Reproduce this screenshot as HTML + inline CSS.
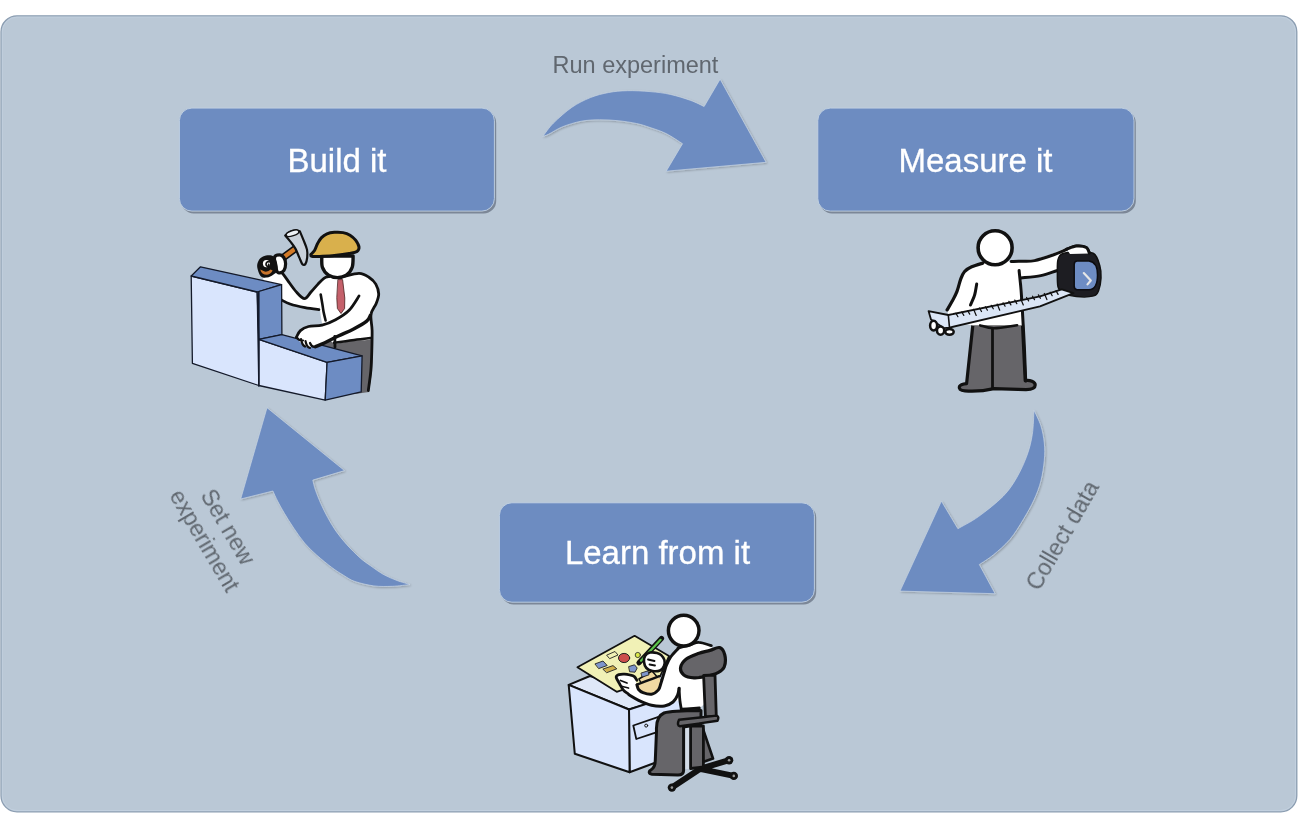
<!DOCTYPE html>
<html><head><meta charset="utf-8">
<style>
html,body{margin:0;padding:0;background:#fff;width:1300px;height:813px;overflow:hidden}
svg{display:block}
text{font-family:"Liberation Sans",sans-serif}
</style></head>
<body>
<svg width="1300" height="813" viewBox="0 0 1300 813">
<defs>
<filter id="sh" x="-5%" y="-5%" width="115%" height="120%">
<feGaussianBlur in="SourceAlpha" stdDeviation="1.2"/>
<feOffset dx="1" dy="1.5" result="b"/>
<feComponentTransfer><feFuncA type="linear" slope="0.4"/></feComponentTransfer>
<feMerge><feMergeNode/><feMergeNode in="SourceGraphic"/></feMerge>
</filter>
<filter id="nf" x="-3%" y="-10%" width="106%" height="120%"><feOffset dx="0" dy="0"/></filter>
<filter id="bl" x="-5%" y="-5%" width="110%" height="110%"><feGaussianBlur stdDeviation="0.7"/></filter>
<filter id="sh2" x="-5%" y="-5%" width="115%" height="120%">
<feGaussianBlur in="SourceAlpha" stdDeviation="1"/>
<feOffset dx="0.5" dy="1.2" result="b"/>
<feComponentTransfer><feFuncA type="linear" slope="0.25"/></feComponentTransfer>
<feMerge><feMergeNode/><feMergeNode in="SourceGraphic"/></feMerge>
</filter>
</defs>
<rect x="1" y="15.8" width="1295.8" height="796" rx="16" fill="#bac8d6" stroke="#8b9db1" stroke-width="1.3"/>
<rect x="2.3" y="17.1" width="1293.2" height="793.4" rx="14.7" fill="none" stroke="#c4d3e2" stroke-width="0.9" opacity="0.8"/>
<g fill="#7b8797" filter="url(#bl)">
<rect x="181.2" y="110.4" width="315" height="103" rx="12.5"/>
<rect x="819.6" y="110.4" width="316.2" height="103" rx="12.5"/>
<rect x="501.2" y="505.1" width="315" height="99.4" rx="12.5"/>
</g>
<g fill="#6d8cc1" stroke="#c3d2e3" stroke-width="0.9">
<rect x="179.4" y="108.1" width="315" height="103" rx="12.5"/>
<rect x="817.8" y="108.1" width="316.2" height="103" rx="12.5"/>
<rect x="499.4" y="502.8" width="315" height="99.4" rx="12.5"/>
</g>
<g fill="#fff" font-size="33" text-anchor="middle" stroke="#fff" stroke-width="0.3" filter="url(#nf)">
<text x="337" y="171.6">Build it</text>
<text x="975.5" y="171.6">Measure it</text>
<text x="657.5" y="563.6">Learn from it</text>
</g>
<g fill="#6d8cc1" stroke="#c9d6e4" stroke-width="0.7" filter="url(#sh2)">
<path d="M542.8,136.4C544.6,134.2 548.6,127.8 553.5,123C558.4,118.2 565.8,111.5 571.9,107.3C578,103.1 584.2,100.1 590.4,97.6C596.5,95.1 602.6,93.7 608.8,92.5C614.9,91.3 620.4,90.9 627.3,90.7C634.2,90.5 642.8,91 650,91.6C657.2,92.2 663.5,92.9 670.3,94.4C677.1,95.9 685,98.4 690.6,100.4C696.2,102.4 701.9,105.5 704.1,106.5L720.1,79.2L766.1,162.3L666.2,171.2L682.5,143.7C679.8,142 671.6,136.3 666.2,133.6C660.8,130.9 655,129.2 650,127.5C645,125.8 641.8,124.6 636.5,123.5C631.2,122.4 624.2,121.3 618.1,120.7C612,120.1 605.8,119.7 599.6,119.8C593.5,119.9 587.4,120 581.2,121.2C575.1,122.4 568.1,124.6 562.7,126.7C557.3,128.8 552.1,132.5 548.8,134.1C545.5,135.7 543.8,136 542.8,136.4Z"/>
<path d="M1034,410.3C1035.2,412.9 1039.2,420.4 1040.9,425.8C1042.6,431.2 1043.7,437.3 1044.3,443C1044.9,448.7 1044.9,453.9 1044.3,460.2C1043.7,466.5 1042.6,474.3 1040.9,480.9C1039.2,487.5 1036.9,493.5 1034,499.8C1031.1,506.1 1027.7,512.2 1023.7,518.8C1019.7,525.4 1015,533.4 1009.9,539.4C1004.8,545.4 998.4,550.7 993.3,554.9C988.2,559.1 981.6,562.9 979.3,564.5L995.1,593.7L900,591.1L941.4,501.1L957.9,528.7C961.3,526.7 971,522 978.5,516.6C986,511.2 996.6,502.9 1003,496.4C1009.4,489.9 1012.8,484.4 1016.8,477.5C1020.8,470.6 1024.5,462.3 1027.1,455.1C1029.7,447.9 1031.1,441.9 1032.3,434.4C1033.5,426.9 1033.7,414.3 1034,410.3Z"/>
<path d="M267,407.7L344.5,470.6L312.8,480.1C313.2,481.8 314.1,486.4 315.5,490.3C316.9,494.2 318.9,499.3 320.9,503.8C322.9,508.3 325.1,512.8 327.6,517.3C330.1,521.8 332.6,526.4 335.8,530.9C339,535.4 342.6,539.9 346.6,544.4C350.7,548.9 356.1,554.3 360.1,557.9C364.2,561.5 367.1,563.3 370.9,566C374.7,568.7 378.8,571.9 383.1,574.3C387.5,576.7 392.5,578.8 397,580.5C401.5,582.2 407.8,583.8 410,584.5C407.1,584.8 398.3,586.1 392.3,586.3C386.3,586.5 380.1,586.7 373.9,585.9C367.7,585.1 360,583.2 355,581.5C350,579.8 347.8,577.9 343.9,575.5C340,573.1 336.2,570.8 331.7,567.4C327.2,564 321.3,559.2 316.8,555.2C312.3,551.2 308.4,547.6 304.6,543.1C300.8,538.6 297.2,533.2 293.8,528.2C290.4,523.2 287.1,517.8 284.4,513.3C281.7,508.8 279.5,504.8 277.6,501.1C275.7,497.4 273.7,492.7 272.9,491L240.7,499Z"/>
</g>
<g fill="#60676f" font-size="23.5" filter="url(#nf)">
<text x="552.5" y="73.4">Run experiment</text>
<g transform="translate(217.5,533) rotate(59.5)" font-size="23" text-anchor="middle"><text x="0" y="-4">Set new</text><text x="0" y="23">experiment</text></g>
<g transform="translate(1039,592) rotate(-60)" font-size="23"><text x="0" y="0">Collect data</text></g>
</g>
<g stroke-linejoin="round" stroke-linecap="round">
<path d="M322,343L333,339L371.5,336.5L373,352L372,372L369,392L355,394L322,360Z" fill="#666569"/>
<path d="M318,286C319.7,282.9 324.7,278.1 329,276.5C333.3,274.9 339,277 344,276.5C349,276 354.8,273.2 359,273.3C363.2,273.4 366.2,275.5 369,277.3C371.8,279.1 374.2,281.3 375.8,284.1C377.4,286.9 378.6,290.7 378.7,293.9C378.8,297.1 377.5,300.1 376.2,303.5C374.9,306.9 371.5,310.3 370.8,314.4C370.1,318.5 372,323.9 372,328C372,332.1 374.3,336.9 371,339C367.7,341.1 358.2,339.8 352,340.5C345.8,341.2 338.7,344.8 334,343C329.3,341.2 326.3,335.5 324,330C321.7,324.5 320.8,315.8 320,310C319.2,304.2 319.3,299 319,295C318.7,291 316.3,289.1 318,286Z" fill="#fff"/>
<path d="M262,276L281.6,272.2L287.5,280.1L296.3,291.9L304.2,298.8L311,292L318,284.1L324,278L322,300L318.9,309.8L300,306L281,300L268,290Z" fill="#fff"/>
<path d="M338.2,279.6L342.6,279.6L344.8,298L344.6,308.5L341,313.5L337.4,308.5L336.8,298Z" fill="#c4606a" stroke="#4a2020" stroke-width="0.8"/>
<path d="M344.3,276.4C346.8,275.9 355,273.3 359.1,273.4C363.2,273.5 366.1,275.4 368.9,277.2C371.7,279 374.2,281.3 375.8,284.1C377.4,286.9 378.6,290.7 378.7,293.9C378.8,297.1 377.5,300.1 376.2,303.5C374.9,306.9 371.7,309.9 371,314.4C370.3,318.9 372,324.5 372.1,330.6C372.2,336.7 372,344.1 371.8,350.9C371.6,357.7 371.4,364.6 370.8,371.2C370.2,377.8 368.7,387.3 368.3,390.5" fill="none" stroke="#111" stroke-width="2.8"/>
<path d="M334.2,342.8C337.2,342.4 345.9,341 352,340.2C358.1,339.4 367.4,338.4 370.5,338" fill="none" stroke="#111" stroke-width="2.6"/>
<path d="M329.5,276.5C328.6,276.8 325.8,277 323.9,278.3C322,279.6 320.1,281.8 318,284.1C315.9,286.4 313.2,289.6 311,292C308.8,294.4 306.9,298.6 304.5,298.6C302.1,298.6 299.1,295 296.3,291.9C293.5,288.8 289.9,283.4 287.5,280.1C285.1,276.8 282.6,273.5 281.6,272.2" fill="none" stroke="#111" stroke-width="2.8"/>
<path d="M281.5,300C282.9,300.7 286.1,302.7 290,304C293.9,305.3 300.2,306.7 305,307.6C309.8,308.5 316.6,309.3 318.9,309.6" fill="none" stroke="#111" stroke-width="2.8"/>
<path d="M320.7,294.5C321,296.2 322,302.1 322.5,305C323,307.9 323.1,309.4 323.6,312C324.1,314.6 325.3,319.1 325.6,320.5" fill="none" stroke="#111" stroke-width="2.6"/>
<path d="M321.8,256C321.9,257.9 321.3,264.1 322.4,267.3C323.5,270.5 326,273.5 328.5,275.2C331,276.9 334.4,277.6 337.4,277.6C340.4,277.6 343.8,276.9 346.3,275.2C348.8,273.5 351.1,270.5 352.2,267.3C353.3,264.1 353,257.9 353.1,256Z" fill="#fff" stroke="#111" stroke-width="3.4"/>
<path d="M310.8,254.6C311.4,253.9 313.4,252.3 314.5,250.5C315.6,248.7 316.4,245.7 317.6,243.5C318.8,241.3 319.9,239.2 321.5,237.6C323.1,236 324.9,234.7 327,233.8C329.1,232.9 331.7,232.5 334.4,232.3C337.1,232.1 340.4,232.1 343,232.6C345.6,233.1 347.9,233.9 350,235.2C352.1,236.5 354.1,238.2 355.6,240.2C357.1,242.2 358.8,245.1 359,247C359.2,248.9 358.6,250.3 357,251.4C355.4,252.5 353,252.8 349.2,253.5C345.4,254.2 339.3,255 334.4,255.5C329.5,256 323.5,256.2 319.7,256.4C315.9,256.5 313.3,256.7 311.8,256.4C310.3,256.1 311,254.9 310.8,254.6" fill="#d9b04c" stroke="#111" stroke-width="3"/>
<line x1="276.5" y1="262.5" x2="294.5" y2="249.2" stroke="#111" stroke-width="7.5" stroke-linecap="round"/>
<line x1="276.5" y1="262.5" x2="294.5" y2="249.2" stroke="#d27a28" stroke-width="4.2" stroke-linecap="round"/>
<path d="M285.2,235.6C286.1,236.6 288.7,239.5 290.4,241.7C292.1,243.9 293.9,246 295.4,248.6C296.9,251.2 298.1,254.9 299.3,257.5C300.5,260.1 301.4,263.1 302.4,264.2C303.4,265.3 304.6,265.1 305.4,264C306.2,262.9 306.9,259.9 307.2,257.5C307.5,255.1 307.6,252.5 307,249.6C306.4,246.7 304.6,242.9 303.4,239.8C302.2,236.7 300.4,232.6 299.8,231.2Q292,228.8 285.2,235.6Z" fill="#c9d1da" stroke="#111" stroke-width="2.2"/>
<ellipse cx="292.5" cy="233.2" rx="6.6" ry="2.6" transform="rotate(-18 292.5 233.2)" fill="#eef2f6" stroke="#111" stroke-width="1.4"/>
<path d="M274.5,257.5C274.9,254.8 277.9,254.8 279.5,254.8C281.1,254.8 282.8,256 283.8,257.5C284.8,259 285.6,261.7 285.6,263.8C285.6,265.9 285,268.8 284,270.3C283,271.8 281,272.7 279.8,272.8C278.6,272.9 277.7,273.4 276.8,270.8C275.9,268.2 274.1,260.2 274.5,257.5Z" fill="#fff" stroke="#111" stroke-width="3.2"/>
<path d="M257.2,267C256.9,264.3 257.8,262 258.8,260.2C259.8,258.4 261.3,257.2 263,256.4C264.7,255.6 267.2,255.2 269,255.2C270.8,255.2 272.5,255.5 273.8,256.6C275.1,257.7 276.2,259.8 276.8,262C277.4,264.2 278.2,267.9 277.6,270C277,272.1 275,273.5 273.2,274.8C271.4,276.1 269.1,277.4 267,277.6C264.9,277.8 262.4,278 260.8,276.2C259.2,274.4 257.5,269.7 257.2,267Z" fill="#111"/>
<path d="M260.2,269.5 Q261.5,274.8 267,274.8 Q271.2,274.2 272.6,270.6 L270.6,269.6 Q268.4,272 264.8,271.6 Z" fill="#c8742c"/>
<ellipse cx="266.4" cy="263.6" rx="3.5" ry="3.7" fill="#fff"/>
<path d="M269.2,261.8 Q266.4,261.2 266,264.3 Q266.2,266.8 269,266.2 L268.6,264.4" fill="none" stroke="#111" stroke-width="1.7"/>
<path d="M191.2,276L257.2,292L258.8,385.5L192.4,363.3Z" fill="#d9e5fd" stroke="#141a2a" stroke-width="1.3"/>
<path d="M200.5,266.8L191.2,276L257.2,292L281.6,284.7Z" fill="#6d8cc3" stroke="#141a2a" stroke-width="1.3"/>
<path d="M257.2,292L281.6,284.7L281.9,334.7L258.8,339.3Z" fill="#6d8cc3" stroke="#141a2a" stroke-width="1.3"/>
<path d="M258.8,339.3L327.1,362.4L325.2,400.2L258.8,385.5Z" fill="#d9e5fd" stroke="#141a2a" stroke-width="1.3"/>
<path d="M258.8,339.3L281.9,334.7L362.1,355.9L327.1,362.4Z" fill="#6d8cc3" stroke="#141a2a" stroke-width="1.3"/>
<path d="M327.1,362.4L362.1,355.9L361.2,391.9L325.2,400.2Z" fill="#6d8cc3" stroke="#141a2a" stroke-width="1.3"/>
<line x1="258.8" y1="292" x2="258.8" y2="386" stroke="#141a2a" stroke-width="1.6"/>
<path d="M358.6,296.8C357,299.1 352.9,306.5 349.1,310.3C345.3,314.1 340.1,317.3 335.6,319.8C331.1,322.3 326.6,324.1 322.1,325.2C317.6,326.3 312.1,325.6 308.5,326.5C304.9,327.4 302.4,328.8 300.4,330.6C298.4,332.4 297.1,336.1 296.4,337.2L300,342 L306,347 L315.3,346.8C316.9,346.1 321,344.6 324.8,342.8C328.6,341 333.6,338.3 338.3,336C343,333.7 348.5,331.7 353.2,329.2C357.9,326.7 363.7,323.6 366.7,321.1C369.7,318.6 370.3,315.5 371,314.4Z" fill="#fff"/>
<path d="M359,296C357.4,298.4 353,306.3 349.1,310.3C345.2,314.3 340.1,317.3 335.6,319.8C331.1,322.3 326.6,324.1 322.1,325.2C317.6,326.3 312.1,325.6 308.5,326.5C304.9,327.4 302.4,328.8 300.4,330.6C298.4,332.4 297.1,336.1 296.4,337.2" fill="none" stroke="#111" stroke-width="2.8"/>
<path d="M370.5,315C369.9,316 369.6,318.7 366.7,321.1C363.8,323.5 357.9,326.7 353.2,329.2C348.5,331.7 343,333.7 338.3,336C333.6,338.3 328.6,341 324.8,342.8C321,344.6 316.9,346.1 315.3,346.8" fill="none" stroke="#111" stroke-width="3.4"/>
<line x1="334.8" y1="336.5" x2="335" y2="347" stroke="#111" stroke-width="2.8"/>
<path d="M296.4,337.2 Q299,341 303,340.5 M301,339 Q302,345 305,346.5 M305.5,341 Q306.5,347 310,348 M310,343 Q312,348 316,346.5" fill="none" stroke="#111" stroke-width="2.2"/>
<path d="M972.9,324.5 L1022.5,324.5 L1025.2,380.6 C1030,380 1035.2,381.5 1035.2,385 C1035.2,388.6 1031,389.6 1026,389.7 L994,388.6 C988,390 975,391.6 965,390.9 C960,390.6 958.6,388.5 959.4,386.5 C960.4,384.5 963,384 966.6,383.6 Z" fill="#666569" stroke="#111" stroke-width="3.2"/>
<line x1="992.5" y1="329" x2="992.5" y2="388" stroke="#111" stroke-width="2.8"/>
<path d="M982.8,263.1L971.7,266.8L964.4,271.7L960.7,279.1L957,291.4L952.1,301.3L947.1,309.9L950,321L972.9,325.5L1023,325.5L1023,300L1021.5,278.5L1040.8,276L1056.7,271L1066,258L1068,247.3L1053,253.5L1034.6,259.6L1011.1,260.7Z" fill="#fff"/>
<path d="M980.2,325.4C982.5,325.9 987.6,328.2 993.8,328.2C999.9,328.2 1013.2,325.7 1017.1,325.2" fill="none" stroke="#111" stroke-width="2.6"/>
<path d="M982.8,263.1C980.9,263.7 974.8,265.4 971.7,266.8C968.6,268.2 966.2,269.6 964.4,271.7C962.6,273.8 961.9,275.8 960.7,279.1C959.5,282.4 958.4,287.7 957,291.4C955.6,295.1 953.8,298.2 952.1,301.3C950.5,304.4 947.9,308.5 947.1,309.9" fill="none" stroke="#111" stroke-width="3.2"/>
<path d="M976.7,284C976.5,285.2 975.9,288.9 975.5,291C975.1,293.1 975,294 974.2,296.3C973.4,298.6 971.1,303.6 970.5,305" fill="none" stroke="#111" stroke-width="3"/>
<path d="M1019.1,270.5C1019.4,273.8 1020.6,284 1021.1,290.4C1021.6,296.8 1021.9,303 1022.3,308.8C1022.6,314.6 1022.8,318.1 1023.2,325C1023.6,331.9 1024.1,340.7 1024.5,350C1024.9,359.3 1025.5,375.8 1025.7,381" fill="none" stroke="#111" stroke-width="3"/>
<path d="M1011.1,261.5C1012.9,261.4 1018.1,261.3 1022,261.2C1025.9,261.1 1029.4,261.6 1034.6,260.6C1039.8,259.6 1047.5,256.9 1053,255C1058.5,253.1 1063.9,250.5 1067.8,249C1071.7,247.5 1073.3,246.2 1076.4,246C1079.5,245.8 1084.2,246.3 1086.3,247.5C1088.4,248.7 1088.8,252.1 1089.3,253" fill="none" stroke="#111" stroke-width="3"/>
<path d="M1021.1,278C1024.4,277.6 1034.9,276.8 1040.8,275.6C1046.7,274.4 1053.5,271.6 1056.7,270.7C1059.9,269.8 1059.5,270.1 1060,270" fill="none" stroke="#111" stroke-width="3"/>
<path d="M1058,259.6C1058.9,256.5 1059.6,254.7 1062.9,253.5C1066.2,252.3 1072.6,252.2 1077.7,252.2C1082.8,252.2 1089.9,251.2 1093.6,253.5C1097.3,255.8 1098.6,261.7 1099.8,265.8C1101,269.9 1101.2,273.9 1101,278C1100.8,282.1 1099.8,287.4 1098.6,290.4C1097.4,293.4 1097.3,294.9 1093.6,295.9C1089.9,296.9 1081.5,297 1076.4,296.5C1071.3,296 1066,294.4 1062.9,292.8C1059.8,291.2 1058.9,290.2 1058,286.7C1057.1,283.2 1057.4,276.4 1057.4,271.9C1057.4,267.4 1057.1,262.7 1058,259.6Z" fill="#1d1d22" stroke="#111" stroke-width="1.5"/>
<path d="M1077,261 L1089,261 Q1097.5,262 1097.5,275 Q1097.5,289.5 1089,289.8 L1077,289.8 Q1074.2,289.5 1074.2,286 L1074.2,264.5 Q1074.2,261.2 1077,261Z" fill="#6d8cc3" stroke="#0c0c10" stroke-width="1.5"/>
<polyline points="1083.8,273.1 1090.8,280.5 1087.5,284.4" fill="none" stroke="#e6e6e6" stroke-width="2.2"/>
<path d="M1067,249.5C1068.6,248.9 1073.2,246.5 1076.4,246.2C1079.6,245.9 1083.9,246.5 1086,247.7C1088.1,248.9 1088.5,252.5 1089,253.5L1070,254Z" fill="#fff"/>
<path d="M1066.5,249.2C1068.2,248.7 1073.1,246.3 1076.4,246C1079.7,245.7 1084.2,246.3 1086.3,247.5C1088.4,248.7 1088.8,252.1 1089.3,253" fill="none" stroke="#111" stroke-width="3"/>
<path d="M928.6,311.2L948.3,315L1040,296.4L1061.7,289.3L1073.5,293.2L1040,306.3L949.5,327.6L944,328.2L931,319.5Z" fill="#dbe6f6" stroke="#111" stroke-width="1.8"/>
<path d="M955.9,313.3 L957.9,316.7 M961.8,312.0 L963.8,315.4 M967.7,310.7 L969.7,314.1 M973.6,309.3 L976.2,315.4 M979.5,308.0 L981.5,311.5 M985.4,306.7 L987.4,310.2 M991.3,305.4 L993.3,308.8 M997.2,304.1 L999.7,310.2 M1003.1,302.8 L1005.1,306.2 M1008.9,301.4 L1010.9,304.9 M1014.8,300.1 L1016.8,303.6 M1020.7,298.8 L1023.3,304.9 M1026.6,297.5 L1028.6,300.9 M1032.5,296.2 L1034.5,299.6 M1038.4,294.9 L1040.4,298.3 M1044.3,293.5 L1046.9,299.6 M1050.2,292.2 L1052.2,295.7 M1056.1,290.9 L1058.1,294.4" fill="none" stroke="#111" stroke-width="1.25"/>
<line x1="948.3" y1="315" x2="949.5" y2="327.6" stroke="#111" stroke-width="1.6"/>
<ellipse cx="949.5" cy="331.8" rx="4.2" ry="2.9" fill="#fff" stroke="#111" stroke-width="2.5"/>
<ellipse cx="940.6" cy="330.6" rx="3.6" ry="4.1" fill="#fff" stroke="#111" stroke-width="2.5"/>
<ellipse cx="933.6" cy="325.6" rx="3.5" ry="4.8" fill="#fff" stroke="#111" stroke-width="2.5"/>
<circle cx="995.1" cy="247.7" r="17" fill="#fff" stroke="#111" stroke-width="3.6"/>
<path d="M699.9,768.9 L671.9,787.6 M699.9,768.9 L733.8,775.9 M699.9,768.9 L729.1,760.2" fill="none" stroke="#111" stroke-width="6"/>
<circle cx="671.9" cy="787.6" r="4.2" fill="#111"/><circle cx="671.9" cy="787.6" r="1.3" fill="#9a9a9a"/>
<circle cx="733.8" cy="775.9" r="4.2" fill="#111"/><circle cx="733.8" cy="775.9" r="1.3" fill="#9a9a9a"/>
<circle cx="729.1" cy="760.2" r="4.2" fill="#111"/><circle cx="729.1" cy="760.2" r="1.3" fill="#9a9a9a"/>
<rect x="683" y="727" width="8" height="42" fill="#d3dce7"/>
<path d="M702,726L713,758.5L703,762Z" fill="#666569" stroke="#111" stroke-width="2.6"/>
<path d="M690.6,726L703.4,726L703.4,767L690.6,768.5Z" fill="#666569" stroke="#111" stroke-width="2.8"/>
<path d="M568.7,684.9L590,676L665,699L629,709.5Z" fill="#dfe8f8" stroke="#111" stroke-width="2"/>
<path d="M629,709.5L684,691.5L684,752L629.6,772.3Z" fill="#d9e5fd" stroke="#111" stroke-width="2"/>
<path d="M568.7,684.9L629,709.5L629.6,772.3L574.8,753.8Z" fill="#d9e5fd" stroke="#111" stroke-width="2"/>
<path d="M633.3,725.5L658.5,716.9L658.5,731.7L636.3,739Z" fill="#d9e5fd" stroke="#111" stroke-width="1.8"/>
<circle cx="646.2" cy="725.6" r="1.5" fill="none" stroke="#111" stroke-width="1"/>
<path d="M577.4,667.2L634.6,635.8L669,656L660,676.5L637,684.8L616.7,691.8Z" fill="#f1f1b6" stroke="#111" stroke-width="1.8"/>
<path d="M638.9,679L652,671L660,680L656.1,693.6L645,690Z" fill="#f0d9a0" stroke="#111" stroke-width="1.5"/>
<ellipse cx="624.1" cy="658" rx="5.6" ry="4.6" fill="#cc4d4d" stroke="#222" stroke-width="1"/>
<path d="M595.3,663.8 L603,661 L607.2,665.5 L599,668.5Z" fill="#7e95cc" stroke="#222" stroke-width="0.9"/>
<path d="M603.2,669 L613,665.6 L616.8,668.8 L607,672.6Z" fill="#d0b04c" stroke="#222" stroke-width="0.9"/>
<path d="M607,655 L615,651.5 L618,655 L610,658.5Z" fill="#f1f1b6" stroke="#222" stroke-width="0.9"/>
<path d="M629,666.5 L634.5,664.8 L637.2,668 L635,672.2 L630,671.8Z" fill="#7e95cc" stroke="#222" stroke-width="0.9"/>
<path d="M641.3,673 L648,670.8 L649,674.8 L642.5,677Z" fill="#7e95cc" stroke="#222" stroke-width="0.9"/>
<circle cx="637.8" cy="655" r="2.6" fill="#dae84a" stroke="#222" stroke-width="0.8"/>
<path d="M656.5,731 C656,722 658,715.5 664,713 C670,711 690,710.5 701,710.5 L701,724 L683.6,727 L683.6,770.5 C683.6,773.5 682,775 678,775 L652,774.2 C648.5,773.8 648.5,771 651,769.8 C654.5,768 655.3,765 655.3,760 Z" fill="#666569" stroke="#111" stroke-width="3"/>
<path d="M678.2,648.2L690,644.8L699,642.4L711.3,645.7L716,665L714,695L699.4,708.4L681.3,709.6L679.9,700.3L673,702L664.4,706.3L651.5,705.4L638.6,700.3L630,695.1L624.6,693.8L618.5,684L616,676L624.6,674.1L634.4,676.6L636.9,684.8L640.3,691.6L651.5,694.2L658.4,689.9L661,683L663.6,674.4L666.2,665.8L670.5,657.2Z" fill="#fff"/>
<path d="M636.9,684.8L659.3,676.2L661,683L658.4,689.9L651.5,694.2L640.3,691.6Z" fill="#f1d9a2"/>
<path d="M678.2,648.4C676.9,649.9 672.5,654.3 670.5,657.2C668.5,660.1 667.4,662.9 666.2,665.8C665.1,668.7 664.5,671.5 663.6,674.4C662.7,677.3 661.9,680.4 661,683C660.1,685.6 660,688 658.4,689.9C656.8,691.8 654.1,693.8 651.5,694.2C648.9,694.7 645.1,693.4 643,692.6C640.9,691.8 639.6,690.8 638.6,689.5C637.6,688.2 637.2,685.6 636.9,684.8" fill="none" stroke="#111" stroke-width="3"/>
<path d="M637,684.6C638.8,683.9 644.3,681.8 648,680.4C651.7,679 657.4,676.9 659.3,676.2" fill="none" stroke="#111" stroke-width="2.4"/>
<path d="M629,694.8C630.6,695.7 634.9,698.6 638.6,700.3C642.4,702 647.2,704.2 651.5,705.2C655.8,706.2 660.8,706.5 664.4,706C668,705.5 670.8,703.8 673,702C675.2,700.2 676.6,697.4 677.6,695.1C678.6,692.8 678.9,689.4 679.1,688.2" fill="none" stroke="#111" stroke-width="3"/>
<path d="M679.1,688.5C679.2,690.5 679.5,696.8 679.9,700.3C680.3,703.8 681.1,707.9 681.3,709.4" fill="none" stroke="#111" stroke-width="2.8"/>
<path d="M681.3,709.2C682.8,709.1 687,708.8 690,708.6C693,708.4 697.8,708.1 699.4,708" fill="none" stroke="#111" stroke-width="2.8"/>
<path d="M678,648.2C680,647.6 686.5,645.8 690,644.8C693.5,643.8 695.5,642.2 699,642.4C702.5,642.5 709.2,645.2 711.3,645.7" fill="none" stroke="#111" stroke-width="2.8"/>
<path d="M628.3,694C627.5,693.4 624.8,691.8 623.4,690.1C622,688.4 620.9,686.1 619.7,684C618.5,681.9 616.3,678.8 616.2,677.2C616.1,675.6 617.6,675.1 619,674.6C620.4,674.1 622.8,674 624.6,674.1C626.4,674.2 628.4,674.6 630,675C631.6,675.4 633.2,675.7 634.4,676.6C635.5,677.5 636.5,679.7 636.9,680.3" fill="none" stroke="#111" stroke-width="2.8"/>
<path d="M620.5,680.5 L627,683 M622.5,686.5 L628.5,688" fill="none" stroke="#111" stroke-width="1.8"/>
<line x1="661.5" y1="638.5" x2="639" y2="662.8" stroke="#111" stroke-width="5.2" stroke-linecap="round"/>
<line x1="660.6" y1="639.8" x2="641" y2="660.8" stroke="#5bc44a" stroke-width="2.2" stroke-linecap="round"/>
<path d="M645,656C646,654.4 648,653.1 650,652.6C652,652.1 655.1,652.5 657,652.9C658.9,653.3 660,654 661.2,655.2C662.4,656.4 663.9,658.2 664.4,660C664.9,661.8 664.7,664.2 664,666C663.3,667.8 661.9,669.7 660,670.5C658.1,671.3 654.8,671.4 652.5,671C650.2,670.6 647.8,669.5 646.4,668C645,666.5 644.2,664 644,662C643.8,660 644,657.6 645,656Z" fill="#fff" stroke="#111" stroke-width="2.6"/>
<path d="M648,659.5 L654.5,661 M649.5,664.5 L655,665.5" fill="none" stroke="#111" stroke-width="1.8"/>
<path d="M680.6,667.5C681,664.9 683.1,661.5 686,659.2C688.9,656.9 694,655.1 698,653.6C702,652.1 706.4,651.4 710,650.4C713.6,649.4 717.1,646.8 719.6,647.6C722.1,648.4 724,651.8 724.8,655C725.6,658.2 725.3,664.1 724.2,667C723.1,669.9 721,671 718,672.6C715,674.2 710,675.5 706,676.4C702,677.3 697.7,678 694,677.8C690.3,677.6 686,676.7 683.8,675C681.6,673.3 680.2,670.1 680.6,667.5Z" fill="#666569" stroke="#111" stroke-width="3.2"/>
<path d="M703.6,675.5L715,675L716.3,716.5L705.4,717Z" fill="#666569" stroke="#111" stroke-width="2.8"/>
<path d="M679,719.8 L716.5,715.6 Q719.5,716.5 717.5,720.8 L680,726.3 Q676.5,725.5 679,719.8Z" fill="#666569" stroke="#111" stroke-width="2.4"/>
<circle cx="683.7" cy="630.6" r="15.3" fill="#fff" stroke="#111" stroke-width="3.5"/>
</g>
</svg>
</body></html>
